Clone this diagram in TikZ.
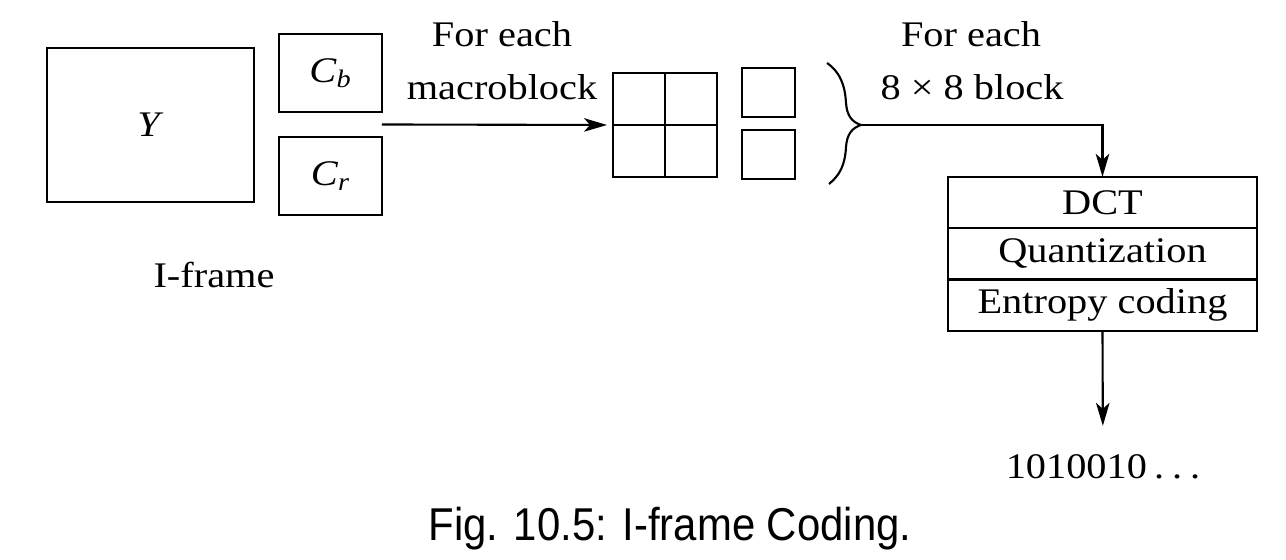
\documentclass[tikz,border=0pt]{standalone}
\usepackage{fontspec}
\setmainfont[FakeStretch=1.12]{Liberation Serif}
\newfontfamily\capfont[FakeStretch=0.91]{Liberation Sans}
\usetikzlibrary{positioning,calc,arrows.meta}

\begin{document}
\begin{tikzpicture} [x=0.02cm, y=-0.02cm, node distance=0pt, line width=1.2pt,
                    font=\fontsize{20.5}{24}\selectfont,
                    lohko/.style={draw, inner sep=0pt, outer sep=0pt},
                    kerros/.style={lohko, minimum width=6.18cm, minimum height=1.027cm},
                    nuoli/.style={-{Stealth[length=0.46cm, width=0.27cm, inset=0.12cm]}}]

\useasboundingbox (0,0) rectangle (1286,560);

% I-frame
\node[lohko, minimum width=4.14cm, minimum height=3.08cm] (Y) at (150.5,125) {\textit{Y}};
\node[lohko, minimum width=2.06cm, minimum height=1.56cm] (Cb) at (330.5,73) {\textit{C}\textsubscript{\textit{b}}};
\node[lohko, minimum width=2.06cm, minimum height=1.56cm] (Cr) [below=0.5cm of Cb] {\textit{C}\textsubscript{\textit{r}}};
\node[anchor=base] (IF) at (214,288) {I-frame};

% macroblock
\node[lohko, minimum size=2.08cm] (MB) at (665,125) {};
\draw (MB.north) -- (MB.south) (MB.west) -- (MB.east);
\node[lohko, minimum width=1.06cm, minimum height=0.98cm] (B1) at (768.5,92.5) {};
\node[lohko, minimum width=1.06cm, minimum height=0.98cm] (B2) [below=0.26cm of B1] {};

\node[anchor=base] (F1) at (502,47) {For each};
\node[anchor=base] (F2) at (502,100) {macroblock};
\node[anchor=base] (F3) at (971,47) {For each};
\node[anchor=base] (F4) at (972,100) {8 × 8 block};

% brace
\coordinate (tip) at (861,125);
\draw (827,63) .. controls (840,72) and (845,85) .. (846,103)
      .. controls (847,116) and (852,122) .. (tip)
      .. controls (852,128) and (847,134) .. (846,147)
      .. controls (845,165) and (840,175) .. (829,184);

% coding steps
\node[kerros] (DCT) at (1102.5,202.5) {DCT};
\node[kerros] (Q) [below=of DCT] {Quantization};
\node[kerros] (E) [below=of Q] {Entropy coding};
\node (bits) at (1103,467) {1010010\hspace{0.2em}.\hspace{0.22em}.\hspace{0.22em}.};

\coordinate (split) at ($(Cb.south east)!0.5!(Cr.north east)$);
\draw[nuoli, shorten >=0.12cm] (split) -- (MB.west);
\draw[nuoli] (tip) -| (DCT.north);
\draw[nuoli, shorten >=0.44cm] (E.south) -- (bits);

\node[anchor=base, font=\capfont\fontsize{26.2}{30}\selectfont] (cap) at (670,541) {Fig. 10.5: I-frame Coding.};
\end{tikzpicture}
\end{document}
